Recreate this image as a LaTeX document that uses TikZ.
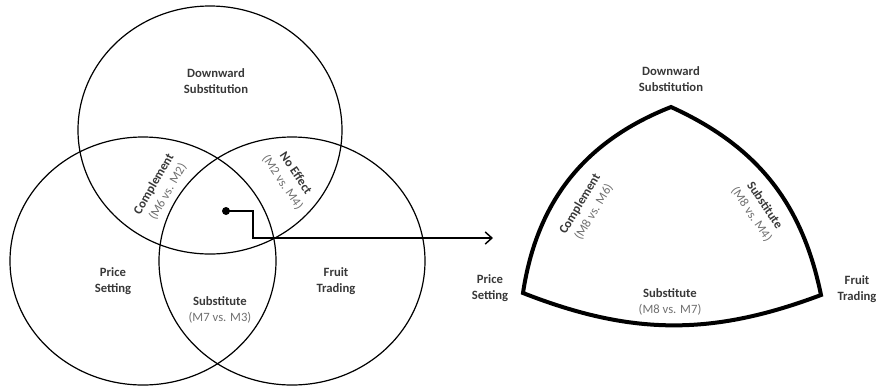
\documentclass[tikz,border=0pt]{standalone}
\usepackage{fontspec}
\setmainfont{Carlito}
\usepackage{xcolor}
\usepackage{tikz}
\usetikzlibrary{arrows.meta}

\definecolor{lblgray}{HTML}{383838}
\definecolor{pargray}{HTML}{707070}
\newcommand{\pair}[1]{{\color{pargray}\mdseries #1}}

\begin{document}
\begin{tikzpicture}[x=0.75pt, y=-0.75pt,
                    set/.style={line width=0.9pt},
                    wedge/.style={line width=3pt, line join=miter},
                    lbl/.style={text=lblgray, align=center, inner sep=0pt,
                    font=\fontsize{9.5}{12}\selectfont\bfseries},
                    src/.style={circle, fill=black, inner sep=0pt, minimum size=6pt},
                    link/.style={line width=1.1pt, -{Straight Barb[length=5pt, width=9pt, line width=1.1pt]}}]
    \useasboundingbox (0,0) rectangle (876,387);

    % three sets
    \coordinate (ds) at (210,130);
    \coordinate (ps) at (143,261);
    \coordinate (ft) at (292,261);
    \draw[set] (ds) ellipse [x radius=132, y radius=124];
    \draw[set] (ps) ellipse [x radius=133, y radius=124];
    \draw[set] (ft) ellipse [x radius=133, y radius=124];

    \node[lbl] (dsl) at (216,81) {Downward\\Substitution};
    \node[lbl] (psl) at (113,281) {Price\\Setting};
    \node[lbl] (ftl) at (336,281) {Fruit\\Trading};
    \node[lbl, rotate=60] (cm62) at (161,188) {Complement\\\pair{(M6 vs. M2)}};
    \node[lbl, rotate=-56] (ne24) at (289,178) {No Effect\\\pair{(M2 vs. M4)}};
    \node[lbl] (su73) at (220,310) {Substitute\\\pair{(M7 vs. M3)}};

    % pointer to the centre
    \node[src] (ctr) at (226,211) {};
    \coordinate (knee) at (253,238);
    \coordinate (tip) at (493,238);
    \draw[link] (ctr.center) -| (knee) -- (tip);

    % triangle of the centre region
    \coordinate (lc) at (523,293);
    \coordinate (ap) at (671,107);
    \coordinate (rc) at (821,295);
    \draw[wedge] (lc) to[bend left=30] (ap) to[bend left=27] (rc) to[bend left=21] cycle;

    \node[lbl] (dsr) at (671,79) {Downward\\Substitution};
    \node[lbl] (psr) at (490,288) {Price\\Setting};
    \node[lbl] (ftr) at (857,289) {Fruit\\Trading};
    \node[lbl, rotate=59] (cm86) at (587,208) {Complement\\\pair{(M8 vs. M6)}};
    \node[lbl, rotate=-56] (su84) at (758,210) {Substitute\\\pair{(M8 vs. M4)}};
    \node[lbl] (su87) at (670,302) {Substitute\\\pair{(M8 vs. M7)}};
\end{tikzpicture}
\end{document}
